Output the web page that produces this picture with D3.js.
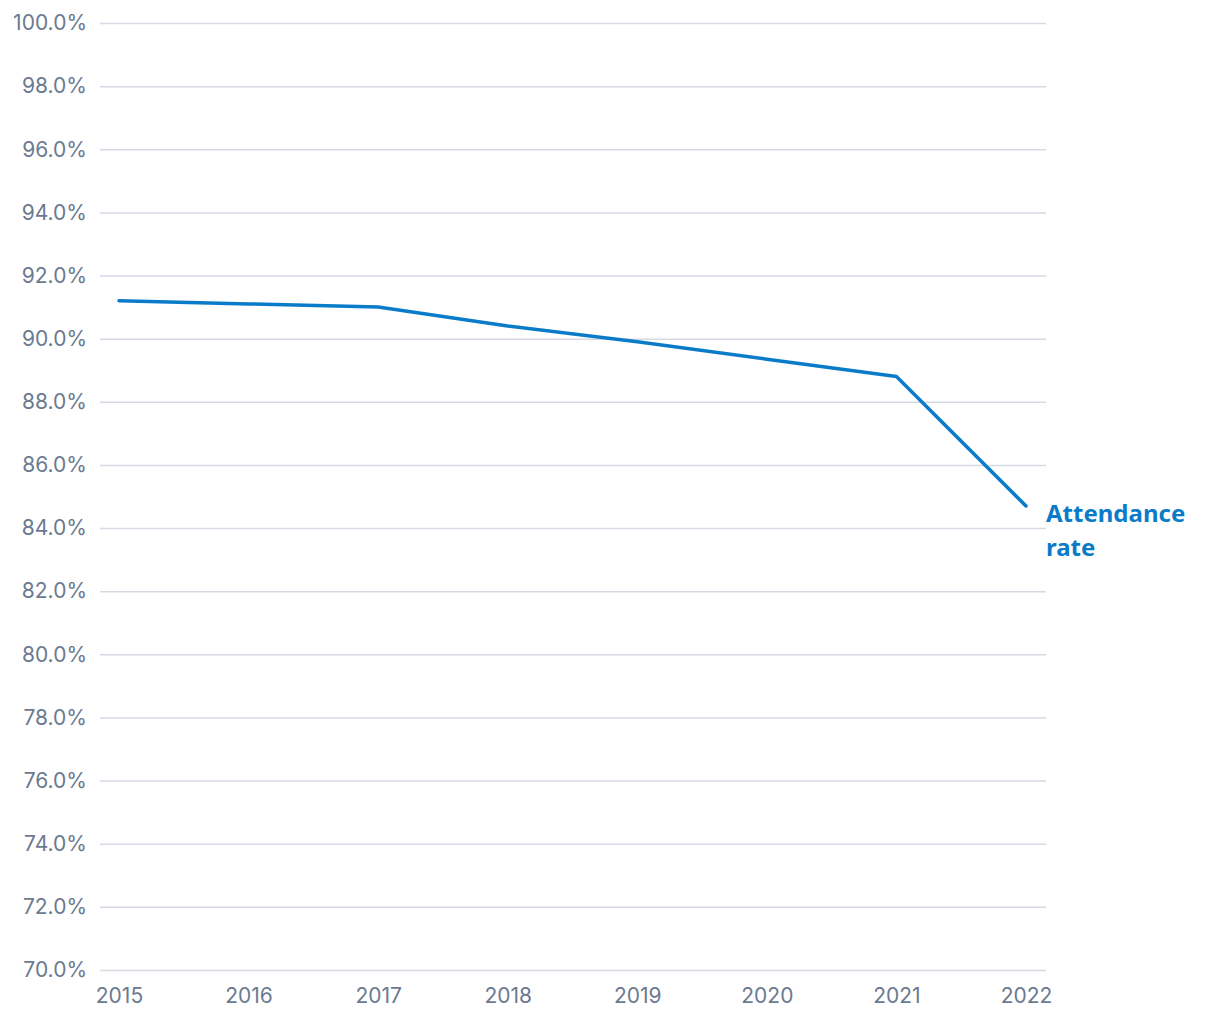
<!DOCTYPE html>
<html lang="en">
  <head>
    <meta charset="UTF-8" />
    <title>Attendance rate</title>
    <script src="https://d3js.org/d3.v7.min.js"></script>
    <style>
      body { margin: 0; background: #fff; }
      .tick text { font-family: Inter, "Noto Sans", sans-serif; }
    </style>
  </head>
  <body>
    <svg width="1220" height="1020"></svg>
    <script>
      const years = [2015, 2016, 2017, 2018, 2019, 2020, 2021, 2022];
      const attendance = [91.2, 91.1, 91.0, 90.4, 89.9, 89.35, 88.8, 84.7];
      const yTicks = [70, 72, 74, 76, 78, 80, 82, 84, 86, 88, 90, 92, 94, 96, 98, 100];
      const seriesLabel = ["Attendance", "rate"];

      let svg = d3.select("svg");

      let x = d3.scaleLinear().domain([2015, 2022]).range([119, 1026]);
      let y = d3.scaleLinear().domain([70, 100]).range([970, 23]);

      // gridlines + y labels
      let yAxis = svg
        .append("g")
        .attr("transform", "translate(100,0)")
        .call(
          d3.axisLeft(y)
            .tickValues(yTicks)
            .tickSize(-946)
            .tickPadding(13)
            .tickFormat((d) => d.toFixed(1) + "%")
        );
      yAxis.select(".domain").remove();
      yAxis.selectAll(".tick line").attr("stroke", "#d5d9e4").attr("stroke-width", 1.5);
      yAxis.selectAll(".tick text")
        .attr("fill", "#6b7a90")
        .attr("font-size", 21);

      // x labels
      let xAxis = svg
        .append("g")
        .attr("transform", "translate(0,970)")
        .call(
          d3.axisBottom(x)
            .tickValues(years)
            .tickSize(0)
            .tickPadding(18)
            .tickFormat(d3.format("d"))
        );
      xAxis.select(".domain").remove();
      xAxis.selectAll(".tick text")
        .attr("fill", "#6b7a90")
        .attr("font-size", 21);

      // the line
      let line = d3.line()
        .x((d, i) => x(years[i]))
        .y((d) => y(d));

      svg
        .append("path")
        .datum(attendance)
        .attr("d", line)
        .attr("fill", "none")
        .attr("stroke", "#0a7bc8")
        .attr("stroke-width", 3.5)
        .attr("stroke-linecap", "round")
        .attr("stroke-linejoin", "round");

      // end label
      let last = attendance[attendance.length - 1];
      svg
        .append("text")
        .attr("x", x(2022) + 20)
        .attr("y", y(last) + 16)
        .attr("fill", "#0a7bc8")
        .attr("font-family", "'Noto Sans', sans-serif")
        .attr("font-weight", "bold")
        .attr("font-size", 24)
        .selectAll("tspan")
        .data(seriesLabel)
        .enter()
        .append("tspan")
        .attr("x", x(2022) + 20)
        .attr("dy", (d, i) => (i === 0 ? 0 : 34))
        .text((d) => d);
    </script>
  </body>
</html>
